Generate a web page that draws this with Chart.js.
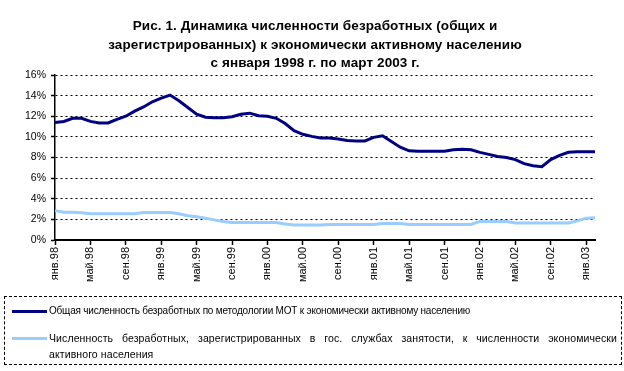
<!DOCTYPE html>
<html>
<head>
<meta charset="utf-8">
<script src="https://cdn.jsdelivr.net/npm/chart.js@4/dist/chart.umd.min.js"></script>
<style>
  body { margin: 0; background: #fff; }
  #wrap { position: relative; width: 624px; height: 371px; font-family: "Liberation Sans", Arial, sans-serif; }
  #chart { position: absolute; left: 0; top: 0; }
  #title { position: absolute; left: 0; width: 630px; top: 17px; text-align: center; font-weight: bold; font-size: 13.5px; line-height: 18.5px; letter-spacing: 0.1px; color: #000; }
  #legend { position: absolute; left: 4px; top: 296px; width: 608px; height: 62px; border: 1px dashed #000; padding: 3px 4px 2px 4px; font-size: 10px; letter-spacing: -0.2px; color: #000; }
  .row { position: relative; padding-left: 40px; line-height: 16px; }
  .wide { font-size: 10.5px; letter-spacing: 0.1px; }
  .sw { position: absolute; left: 3px; top: 7px; width: 35px; height: 3px; }
  .full { display: block; text-align: justify; text-align-last: justify; }
</style>
</head>
<body>
<div id="wrap">
  <canvas id="chart" width="624" height="371"></canvas>
  <div id="title">Рис. 1. Динамика численности безработных (общих и<br>зарегистрированных) к экономически активному населению<br>с января 1998 г. по март 2003 г.</div>
  <div id="legend">
    <div class="row" style="margin-top:3px"><span class="sw" style="background:#000080"></span>Общая численность безработных по методологии МОТ к экономически активному населению</div>
    <div class="row wide" style="margin-top:11px"><span class="sw" style="background:#99ccff"></span><span class="full">Численность безработных, зарегистрированных в гос. службах занятости, к численности экономически</span>активного населения</div>
  </div>
</div>
<script>
// months Jan 1998 .. Feb 2003
const months = [
  'янв.98','фев.98','мар.98','апр.98','май.98','июн.98','июл.98','авг.98','сен.98','окт.98','ноя.98','дек.98',
  'янв.99','фев.99','мар.99','апр.99','май.99','июн.99','июл.99','авг.99','сен.99','окт.99','ноя.99','дек.99',
  'янв.00','фев.00','мар.00','апр.00','май.00','июн.00','июл.00','авг.00','сен.00','окт.00','ноя.00','дек.00',
  'янв.01','фев.01','мар.01','апр.01','май.01','июн.01','июл.01','авг.01','сен.01','окт.01','ноя.01','дек.01',
  'янв.02','фев.02','мар.02','апр.02','май.02','июн.02','июл.02','авг.02','сен.02','окт.02','ноя.02','дек.02',
  'янв.03','фев.03'
];

// total unemployment (ILO), % of active population
const totalUnemp = [
  11.4, 11.5, 11.8, 11.8, 11.5, 11.35, 11.35, 11.7, 12.0, 12.5, 12.9, 13.4,
  13.75, 14.05, 13.5, 12.85, 12.2, 11.9, 11.85, 11.85, 11.95, 12.2, 12.3, 12.05,
  12.0, 11.8, 11.3, 10.6, 10.25, 10.05, 9.9, 9.9, 9.8, 9.65, 9.6, 9.6,
  9.95, 10.1, 9.55, 9.0, 8.65, 8.6, 8.6, 8.6, 8.6, 8.75, 8.8, 8.75,
  8.5, 8.3, 8.1, 8.0, 7.8, 7.4, 7.2, 7.1, 7.8, 8.2, 8.5, 8.55,
  8.55, 8.55
];

// registered unemployment, %
const registeredUnemp = [
  2.85, 2.7, 2.7, 2.65, 2.55, 2.55, 2.55, 2.55, 2.55, 2.55, 2.67, 2.67,
  2.67, 2.67, 2.55, 2.35, 2.25, 2.1, 1.95, 1.8, 1.7, 1.7, 1.7, 1.7,
  1.7, 1.7, 1.55, 1.45, 1.45, 1.45, 1.45, 1.5, 1.5, 1.5, 1.5, 1.5,
  1.5, 1.6, 1.6, 1.6, 1.5, 1.5, 1.5, 1.5, 1.5, 1.5, 1.5, 1.5,
  1.8, 1.8, 1.8, 1.8, 1.65, 1.65, 1.65, 1.65, 1.65, 1.65, 1.65, 1.85,
  2.1, 2.15
];

const labelEvery = 4;

const ctx = document.getElementById('chart');
new Chart(ctx, {
  type: 'line',
  data: {
    labels: months,
    datasets: [
      {
        label: 'Общая численность безработных по методологии МОТ к экономически активному населению',
        data: totalUnemp,
        borderColor: '#000080',
        borderWidth: 3,
        pointRadius: 0,
        tension: 0
      },
      {
        label: 'Численность безработных, зарегистрированных в гос. службах занятости, к численности экономически активного населения',
        data: registeredUnemp,
        borderColor: '#99ccff',
        borderWidth: 3,
        pointRadius: 0,
        tension: 0
      }
    ]
  },
  options: {
    responsive: false,
    animation: false,
    layout: { padding: { top: 75, left: 0, right: 29, bottom: 81 } },
    plugins: { legend: { display: false }, title: { display: false }, tooltip: { enabled: false } },
    scales: {
      x: {
        offset: false,
        afterFit: (s) => { s.height = 50; },
        grid: {
          drawOnChartArea: false,
          drawTicks: true,
          tickLength: 5,
          tickColor: (c) => (c.index % labelEvery === 0 ? '#000' : 'rgba(0,0,0,0)'),
          tickWidth: 1.5
        },
        border: { color: '#000', width: 2 },
        ticks: {
          autoSkip: false,
          minRotation: 90,
          maxRotation: 90,
          padding: 2,
          color: '#000',
          font: { family: 'Liberation Sans', size: 11 },
          callback: function (v, i) { return i % labelEvery === 0 ? months[i] : ''; }
        }
      },
      y: {
        min: 0,
        max: 16,
        afterFit: (s) => { s.width = 55; },
        grid: {
          color: '#000',
          lineWidth: 1,
          tickLength: 4,
          tickColor: '#000',
          tickWidth: 1.5
        },
        border: { color: '#000', width: 1.5, dash: [2, 3] },
        ticks: {
          stepSize: 2,
          padding: 5,
          color: '#000',
          font: { family: 'Liberation Sans', size: 10.5 },
          callback: (v) => v + '%'
        }
      }
    }
  }
});
</script>
</body>
</html>
